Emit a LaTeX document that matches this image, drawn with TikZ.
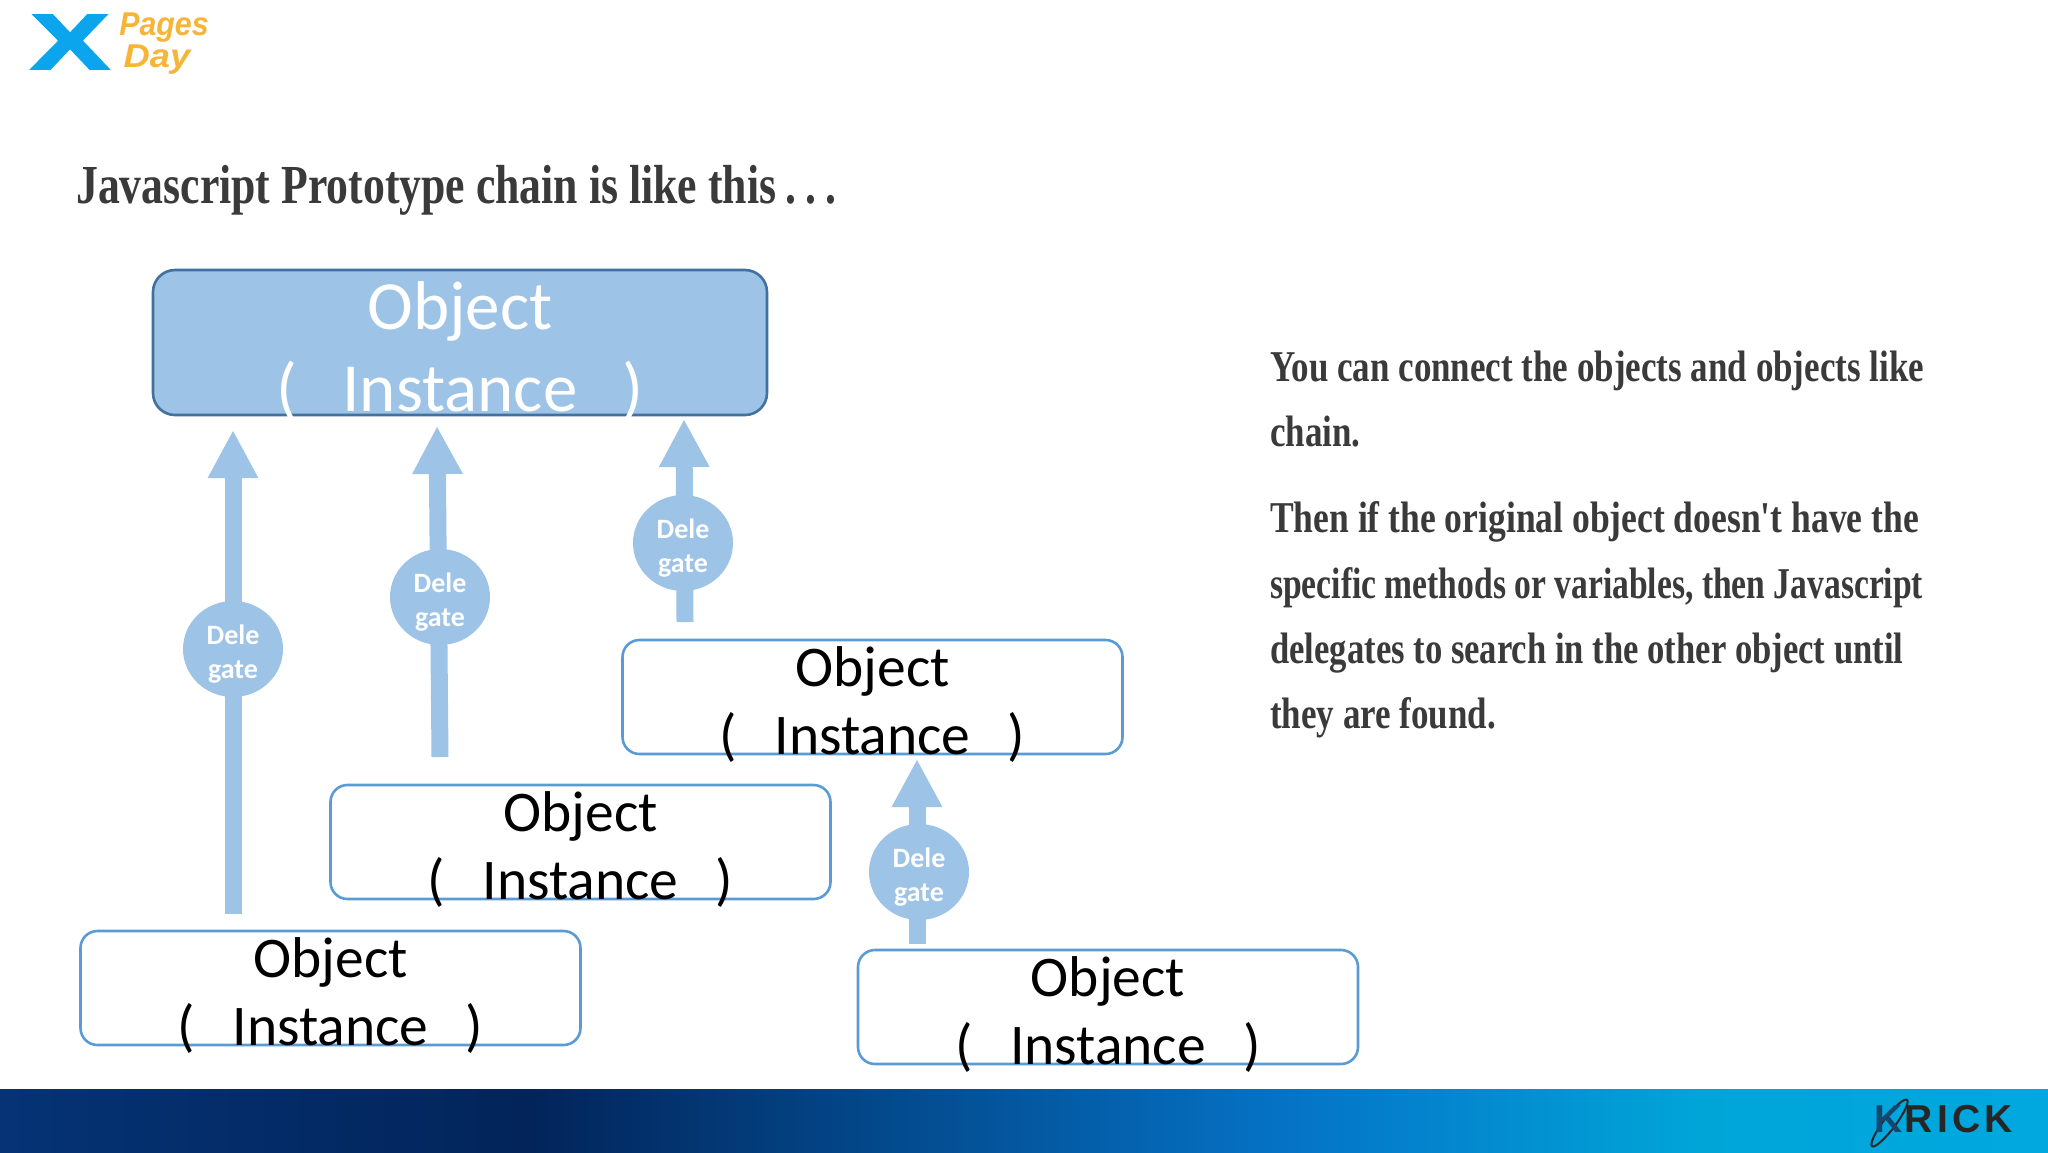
\documentclass[tikz,border=0pt]{standalone}
\usepackage{fontspec}
\setmainfont{Carlito}
\newfontfamily\logofont{Liberation Sans}
\newfontfamily\logoheavy[FakeBold=2.5]{Liberation Sans}
\newfontfamily\inkfont[FakeStretch=0.795]{Liberation Serif}
\usetikzlibrary{arrows.meta,shapes.geometric,positioning}
\definecolor{DelegateBlue}{HTML}{9DC3E6}
\definecolor{BoxLine}{HTML}{5B9BD5}
\definecolor{TopLine}{HTML}{41719C}
\definecolor{BodyInk}{HTML}{3A3A3A}
\definecolor{FooterA}{HTML}{053375}
\definecolor{FooterB}{HTML}{02245A}
\definecolor{FooterC}{HTML}{0575C8}
\definecolor{FooterD}{HTML}{00A5D8}
\definecolor{FooterE}{HTML}{00A8E0}
\definecolor{XBlue}{HTML}{0AA5EC}
\definecolor{XOrange}{HTML}{F7B538}
\definecolor{KInk}{HTML}{16456F}

\begin{document}
\begin{tikzpicture}[x=1pt,y=-1pt]
	\tikzstyle{ObjBox}   = [rectangle, draw=BoxLine, line width=2.6pt, rounded corners=17pt, minimum width=500pt, minimum height=114pt, inner sep=0pt]
	\tikzstyle{ObjText}  = [align=center, inner sep=0pt, font=\fontsize{57.5}{68}\selectfont, text=black]
	\tikzstyle{Delegate} = [ellipse, fill=DelegateBlue, minimum width=100pt, minimum height=96pt, inner sep=0pt, align=center, text=white, font=\fontsize{28}{34}\selectfont\bfseries]
	\tikzstyle{Chain}    = [draw=DelegateBlue, line width=17pt, -{Triangle[length=48pt,width=47pt]}]
	\tikzstyle{Body}     = [anchor=base west, inner sep=0pt, text=BodyInk, font=\inkfont\bfseries\fontsize{44}{44}\selectfont]
	\tikzstyle{LogoTag}  = [inner sep=0pt, text=XOrange, font=\logofont\bfseries\itshape\fontsize{33}{33}\selectfont]

	\useasboundingbox (0,0) rectangle (2048,1152);
	\fill [white] (0,0) rectangle (2048,1152);

	% footer band
	\shade [left color=FooterA, right color=FooterB] (0,1089) rectangle (530,1152);
	\shade [left color=FooterB, right color=FooterC] (530,1089) rectangle (1306,1152);
	\shade [left color=FooterC, right color=FooterD] (1306,1089) rectangle (1700,1152);
	\shade [left color=FooterD, right color=FooterE] (1700,1089) rectangle (2048,1152);

	% logos
	\node (logoX) at (70,42) [inner sep=0pt, text=XBlue, font=\logoheavy\bfseries\fontsize{78}{78}\selectfont, xscale=1.5] {X};
	\node (logoP) at (164,28) [LogoTag, xscale=.92] {Pages};
	\node (logoD) at (157,60) [LogoTag, xscale=1.1] {Day};
	\draw [black!85, line width=2pt, rotate around={53:(1889.5,1123)}] (1889.5,1123) ellipse (29pt and 6pt);
	\node (logoK) at (1889,1119) [inner sep=0pt, text=KInk, font=\logofont\bfseries\fontsize{39}{39}\selectfont] {K};
	\node (logoR) at (1959,1119) [inner sep=0pt, text=black!85, font=\logofont\bfseries\fontsize{39}{39}\selectfont] {R\hspace{.11em}I\hspace{.11em}C\hspace{.11em}K};

	% heading
	\node (title) at (76,203) [Body, font=\inkfont\bfseries\fontsize{55}{55}\selectfont] {Javascript Prototype chain is like this\,.\,.\,.};

	% text
	\foreach \n/\y/\s/\t in {a/381/1/You can connect the objects and objects like, b/446/1/chain., c/532/1.016/Then if the original object doesn't have the, d/598/.96/specific methods or variables{,} then Javascript, e/663/.99/delegates to search in the other object until, f/728/1/they are found.}
		\node (line\n) at (1270,\y) [Body, xscale=\s] {\t};

	% arrows
	\foreach \n/\a/\b/\c/\d in {a/233/914/233/430, b/440/757/437/426, c/685/622/684/419, d/917/944/917/759} {
		\coordinate (tail\n) at (\a,\b);
		\coordinate (head\n) at (\c,\d);
		\draw [Chain] (tail\n) -- (head\n);
	}
	\foreach \n/\x/\y in {a/233/649, b/440/597, c/683/543, d/919/872}
		\node (dele\n) at (\x,\y) [Delegate] {\rule{0pt}{29pt}Dele\\gate};

	% objects
	\node (objTop) at (460,342.5) [ObjBox, draw=TopLine, fill=DelegateBlue, minimum width=614pt, minimum height=145pt, rounded corners=22pt] {};
	\node (txtTop) at (460,351.5) [ObjText, text=white, font=\fontsize{69}{82}\selectfont] {Object\\(\hspace{.65em}Instance\hspace{.65em})};
	\foreach \n/\x/\y in {a/330.5/988, b/580.5/842, c/872.5/697, d/1108/1007} {
		\node (obj\n) at (\x,\y) [ObjBox] {};
		\node (txt\n) at (\x,\y+7.5) [ObjText] {Object\\(\hspace{.65em}Instance\hspace{.65em})};
	}
\end{tikzpicture}
\end{document}
